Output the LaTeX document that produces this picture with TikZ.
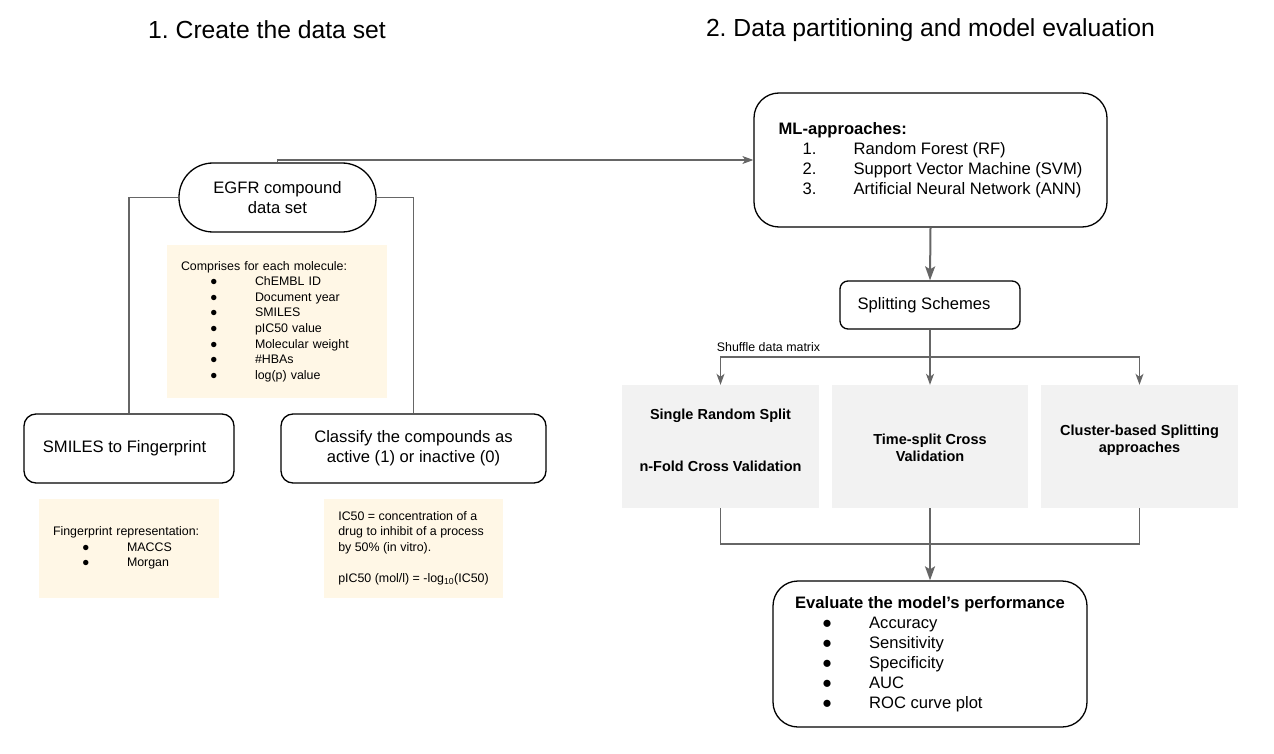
\documentclass[tikz,border=0pt]{standalone}
\usepackage{fontspec}
\setmainfont{Liberation Sans}
\usetikzlibrary{positioning}
\usetikzlibrary{arrows.meta}
\definecolor{notefill}{HTML}{FFF7E6}
\definecolor{boxgray}{HTML}{F2F2F2}
\definecolor{linegray}{HTML}{666666}
\newcommand{\listrow}[3]{\hspace*{#1}\makebox[#2][l]{●}#3}
\tikzset{
    basefont/.style = {font=\fontsize{16.6}{20}\selectfont},
    smallfont/.style = {font=\fontsize{12.4}{15.6}\selectfont},
    titlenode/.style = {font=\fontsize{24.7}{29}\selectfont},
    pillnode/.style = {rectangle, rounded corners=34pt, draw=black, line width=1.3pt, align=center, basefont},
    roundbox/.style = {rectangle, draw=black, line width=1.3pt, align=center, basefont},
    notebox/.style = {rectangle, fill=notefill, inner xsep=14pt, align=left, smallfont},
    splitbox/.style = {rectangle, fill=boxgray, minimum height=123pt},
    splittext/.style = {align=center, font=\fontsize{14.5}{17.3}\selectfont\bfseries},
    edgeg/.style = {-{Stealth[length=11pt,width=8pt,inset=3pt]}, line width=1.2pt, linegray},
    edgegb/.style = {-{Stealth[length=14pt,width=10pt,inset=3pt]}, line width=2pt, linegray},
    lineg/.style = {line width=1.2pt, linegray}
}

\begin{document}
\frenchspacing
\begin{tikzpicture}[x=1pt, y=-1pt]
\useasboundingbox (0,0) rectangle (1274,754);

% headings
\node[titlenode] (title1) at (267,30) {1. Create the data set};
\node[titlenode] (title2) at (930.5,30) {2. Data partitioning and model evaluation};

% part 1
\node[pillnode, minimum width=197pt, minimum height=69pt] (egfr) at (277.5,197.5) {EGFR compound\\data set};
\node[notebox, text width=192pt, minimum height=153pt] (comprises) at (277,321.5)
  {Comprises for each molecule:\\
   \listrow{29pt}{45pt}{ChEMBL ID}\\
   \listrow{29pt}{45pt}{Document year}\\
   \listrow{29pt}{45pt}{SMILES}\\
   \listrow{29pt}{45pt}{pIC50 value}\\
   \listrow{29pt}{45pt}{Molecular weight}\\
   \listrow{29pt}{45pt}{\#HBAs}\\
   \listrow{29pt}{45pt}{log(p) value}};
\node[roundbox, rounded corners=12pt, minimum width=210pt, minimum height=69pt] (smiles) at (129,448.5) {SMILES to Fingerprint\hspace*{9pt}};
\node[roundbox, rounded corners=12pt, minimum width=265pt, minimum height=69pt] (classify) at (413.5,448.5) {Classify the compounds as\\active (1) or inactive (0)};
\node[notebox, text width=152pt, minimum height=99pt] (finger) at (129,548)
  {Fingerprint representation:\\
   \listrow{29pt}{45pt}{MACCS}\\
   \listrow{29pt}{45pt}{Morgan}};
\node[notebox, minimum width=179pt, minimum height=99pt] (ic50) at (413.5,548)
  {IC50 = concentration of a\\drug to inhibit of a process\\by 50\% (in vitro).\\[15.6pt]
   pIC50 (mol/l) = -log\textsubscript{10}(IC50)};

\draw[lineg] (egfr.west) -| (smiles.north);
\draw[lineg] (egfr.east) -| (classify.north);

% part 2
\node[roundbox, align=left, rounded corners=25pt, minimum width=353pt, minimum height=134pt] (ml) at (930.5,160)
  {\textbf{ML-approaches:}\\
   \hspace*{24pt}\makebox[51pt][l]{1.}Random Forest (RF)\\
   \hspace*{24pt}\makebox[51pt][l]{2.}Support Vector Machine (SVM)\\
   \hspace*{24pt}\makebox[51pt][l]{3.}Artificial Neural Network (ANN)};
\node[roundbox, rounded corners=8pt, minimum width=180pt, minimum height=48pt] (split) at (930,305) {Splitting Schemes\hspace*{12pt}};
\node[splitbox, minimum width=197pt, label={[splittext, yshift=6pt]center:{Single Random Split\\[34.7pt]n-Fold Cross Validation}}] (single) at (720.5,446.5) {};
\node[splitbox, minimum width=196pt, label={[splittext, yshift=-1pt]center:{Time-split Cross\\Validation}}] (timesplit) at (930,446.5) {};
\node[splitbox, minimum width=197pt, label={[splittext, yshift=6pt]center:{Cluster-based Splitting\\approaches}}] (cluster) at (1139.5,446.5) {};
\node[roundbox, align=left, rounded corners=25pt, minimum width=314pt, minimum height=146pt] (eval) at (930,654)
  {\textbf{Evaluate the model’s performance}\\
   \listrow{27pt}{47pt}{Accuracy}\\
   \listrow{27pt}{47pt}{Sensitivity}\\
   \listrow{27pt}{47pt}{Specificity}\\
   \listrow{27pt}{47pt}{AUC}\\
   \listrow{27pt}{47pt}{ROC curve plot}};

\coordinate (fork) at (930,357);
\coordinate (join) at (930,544);
\node[smallfont] (shuffle) at (768.5,347) {Shuffle data matrix};

\draw[edgeg] (egfr.north) |- (ml.west);
\draw[edgegb] (ml.south) -- (split.north);
\draw[lineg] (split.south) -- (fork);
\draw[edgeg] (fork) -| (single.north);
\draw[edgeg] (fork) -- (timesplit.north);
\draw[edgeg] (fork) -| (cluster.north);
\draw[lineg] (single.south) |- (join);
\draw[lineg] (cluster.south) |- (join);
\draw[lineg] (timesplit.south) -- (join);
\draw[edgegb] (join) -- (eval.north);

\end{tikzpicture}
\end{document}
